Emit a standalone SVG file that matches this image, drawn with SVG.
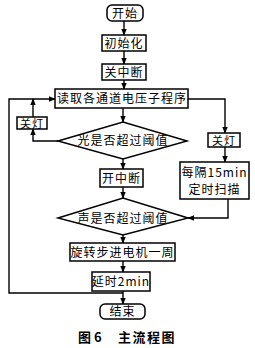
<svg xmlns="http://www.w3.org/2000/svg" width="255" height="348" viewBox="0 0 255 348">
<style>
.b{fill:#fff;stroke:#000;stroke-width:1.5}
.t{font-family:"Noto Sans CJK SC","Noto Sans CJK JP",sans-serif;font-size:12px;fill:#000;text-anchor:middle;letter-spacing:1px}
.c{fill:none;stroke:#000;stroke-width:1.4}
.cap{font-family:"Noto Sans CJK SC",sans-serif;font-size:13px;font-weight:bold;fill:#000}
</style>
<defs>
<marker id="a" viewBox="0 0 10 10" refX="9" refY="5" markerWidth="5" markerHeight="5" orient="auto">
<path d="M0,1 L10,5 L0,9 z" fill="#000"/>
</marker>
</defs>
<rect width="255" height="348" fill="#fff"/>
<g id="connectors">
<line class="c" x1="124" y1="21" x2="124" y2="35" marker-end="url(#a)"/>
<line class="c" x1="124" y1="51" x2="124" y2="64" marker-end="url(#a)"/>
<line class="c" x1="124" y1="80" x2="124" y2="89" marker-end="url(#a)"/>
<line class="c" x1="123" y1="108" x2="123" y2="122" marker-end="url(#a)"/>
<line class="c" x1="123" y1="159" x2="123" y2="169" marker-end="url(#a)"/>
<line class="c" x1="123" y1="187" x2="123" y2="198" marker-end="url(#a)"/>
<line class="c" x1="123" y1="235" x2="123" y2="243" marker-end="url(#a)"/>
<line class="c" x1="123" y1="261" x2="123" y2="272" marker-end="url(#a)"/>
<line class="c" x1="123" y1="291" x2="123" y2="304" marker-end="url(#a)"/>
<polyline class="c" points="123,293 9,293 9,99 55,99" marker-end="url(#a)"/>
<polyline class="c" points="58,141 33,141 33,129" marker-end="url(#a)"/>
<line class="c" x1="33" y1="117" x2="33" y2="99" marker-end="url(#a)"/>
<polyline class="c" points="188,99 225,99 225,133" marker-end="url(#a)"/>
<line class="c" x1="225" y1="147" x2="225" y2="162" marker-end="url(#a)"/>
<polyline class="c" points="228,199 228,218 188,218" marker-end="url(#a)"/>
</g>
<g id="start"><rect class="b" x="107" y="5" width="36" height="16" rx="5"/><text class="t" x="125" y="17.5">开始</text></g>
<g id="init"><rect class="b" x="102" y="35" width="44" height="16"/><text class="t" x="124" y="47.5">初始化</text></g>
<g id="cli"><rect class="b" x="102" y="64" width="44" height="16"/><text class="t" x="124" y="76.5">关中断</text></g>
<g id="read"><rect class="b" x="55" y="89" width="133" height="19"/><text class="t" x="122" y="103">读取各通道电压子程序</text></g>
<g id="offL"><rect class="b" x="17" y="117" width="30" height="12"/><text class="t" x="32" y="127.5" style="font-size:11px">关灯</text></g>
<g id="light"><polygon class="b" points="58,141 123,122 187,141 123,159"/><text class="t" x="123" y="145">光是否超过阈值</text></g>
<g id="offR"><rect class="b" x="208" y="133" width="32" height="14"/><text class="t" x="224" y="144.5" style="font-size:11px">关灯</text></g>
<g id="scan"><rect class="b" x="180" y="162" width="69" height="37"/><text class="t" x="214.5" y="177">每隔15min</text><text class="t" x="214.5" y="194">定时扫描</text></g>
<g id="sti"><rect class="b" x="100" y="169" width="43" height="18"/><text class="t" x="121.5" y="182.5">开中断</text></g>
<g id="sound"><polygon class="b" points="58,218 123,198 188,218 123,235"/><text class="t" x="123" y="222.5">声是否超过阈值</text></g>
<g id="motor"><rect class="b" x="70" y="243" width="105" height="18"/><text class="t" x="122.5" y="256.5">旋转步进电机一周</text></g>
<g id="delay"><rect class="b" x="92" y="272" width="58" height="19"/><text class="t" x="121" y="286">延时2min</text></g>
<g id="end"><rect class="b" x="100" y="304" width="45" height="15" rx="5"/><text class="t" x="122.5" y="316">结束</text></g>
<text class="cap" x="78" y="342" xml:space="preserve">图 6</text>
<text class="cap" x="118" y="342" letter-spacing="1.5">主流程图</text>
</svg>
